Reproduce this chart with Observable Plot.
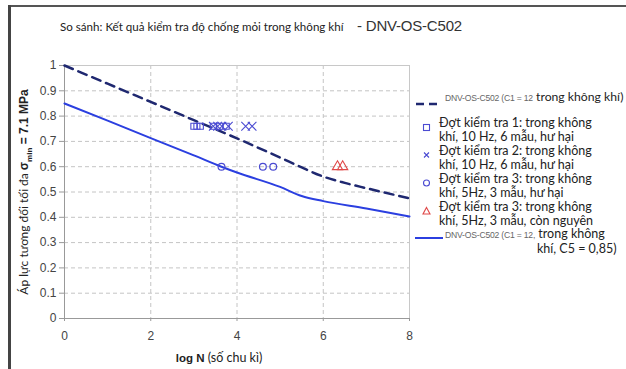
<!DOCTYPE html>
<html><head><meta charset="utf-8">
<script src="https://cdn.jsdelivr.net/npm/d3@7"></script>
<script src="https://cdn.jsdelivr.net/npm/@observablehq/plot@0.6"></script>
<style>
body{margin:0;background:#fff;}
#wrap{position:relative;width:626px;height:369px;overflow:hidden;background:#fff;font-family:Lato,"Open Sans",sans-serif;color:#222;}
#topbar{position:absolute;left:8px;top:5px;width:618px;height:2px;background:#555;}
#leftbar{position:absolute;left:8px;top:5px;width:3px;height:364px;background:#444;}
#chart{position:absolute;left:0;top:0;}
.abs{position:absolute;white-space:nowrap;}
.title1{left:60px;top:20px;font-size:11.6px;}
.title2{left:357px;top:17px;font-size:15px;font-family:"Liberation Sans",Arial,sans-serif;letter-spacing:-0.2px;color:#333;}
.ylab{left:25px;top:192px;transform:translate(-50%,-50%) rotate(-90deg);font-size:12px;}
.ylab b{font-family:"Liberation Sans",Arial,sans-serif;font-size:12px;}
.xlab{left:219px;top:357px;transform:translate(-50%,-50%);font-size:12.5px;}
.xlab b{font-family:"Liberation Sans",Arial,sans-serif;font-size:11.5px;}
.leg{font-size:12.5px;line-height:13.5px;}
.small{font-family:"Liberation Sans",Arial,sans-serif;font-size:8.6px;color:#666;letter-spacing:-0.2px;}
</style></head><body>
<div id="wrap">
<div id="topbar"></div><div id="leftbar"></div>
<div id="chart"></div>
</div>
<script>
// ---- data ----
const dashedX = [0, 1, 2, 3, 4, 5, 5.5, 6, 6.5, 7, 8];
const dashedY = [1.0, 0.928, 0.856, 0.784, 0.712, 0.636, 0.597, 0.561, 0.536, 0.515, 0.475];
const solidX = [0, 1, 2, 3, 3.64, 4, 5, 5.5, 6, 7, 8];
const solidY = [0.85, 0.782, 0.713, 0.645, 0.60, 0.577, 0.52, 0.484, 0.464, 0.435, 0.403];
const test1X = [3.0, 3.07, 3.15, 3.45, 3.6, 3.75];
const test1Y = [0.76, 0.76, 0.76, 0.76, 0.76, 0.76];
const test2X = [3.45, 3.55, 3.65, 3.8, 4.2, 4.35];
const test2Y = [0.76, 0.76, 0.76, 0.76, 0.76, 0.76];
const test3X = [3.64, 4.6, 4.84];
const test3Y = [0.60, 0.60, 0.60];
const test3bX = [6.33, 6.45];
const test3bY = [0.60, 0.60];
const xTicks = [0, 2, 4, 6, 8];
const yTicks = [0, 0.1, 0.2, 0.3, 0.4, 0.5, 0.6, 0.7, 0.8, 0.9, 1];

const titleMain = "So sánh: Kết quả kiểm tra độ chống mỏi trong không khí";
const titleStd = "- DNV-OS-C502";
const yLabelText = "Áp lực tương đối tối đa ";
const xLabelBold = "log N";
const xLabelText = " (số chu kì)";
const legendLabels = [
  ["DNV-OS-C502 (C1 = 12", " trong không khí)"],
  ["Đợt kiểm tra 1: trong không", "khí, 10 Hz, 6 mẫu, hư hại"],
  ["Đợt kiểm tra 2: trong không", "khí, 10 Hz, 6 mẫu, hư hại"],
  ["Đợt kiểm tra 3: trong không", "khí, 5Hz, 3 mẫu, hư hại"],
  ["Đợt kiểm tra 3: trong không", "khí, 5Hz, 3 mẫu, còn nguyên"],
  ["DNV-OS-C502 (C1 = 12,", " trong không", "khí, C5 = 0,85)"]
];

const zip = (xs, ys) => xs.map((x, i) => ({x, y: ys[i]}));
const cDash = "#1f2870", cSolid = "#2b3fe0", cMark = "#4b4bd2", cRed = "#e04848";

const chart = Plot.plot({
  width: 626, height: 369,
  marginLeft: 64, marginRight: 217, marginTop: 65, marginBottom: 51,
  style: {fontFamily: "'Liberation Sans', Arial, sans-serif", fontSize: "12px", color: "#444", background: "transparent"},
  x: {domain: [0, 8]},
  y: {domain: [0, 1]},
  marks: [
    Plot.gridY(yTicks.filter(d => d > 0 && d < 1), {stroke: "#c4c4c4", strokeOpacity: 1, strokeDasharray: "4,3"}),
    Plot.gridX(xTicks.filter(d => d > 0 && d < 8), {stroke: "#c4c4c4", strokeOpacity: 1, strokeDasharray: "4,3"}),
    Plot.frame({stroke: "#c8c8c8"}),
    Plot.ruleY([0], {stroke: "#999"}),
    Plot.ruleX([0], {stroke: "#999"}),
    Plot.axisY(yTicks, {tickSize: 5, tickPadding: 3, stroke: "#999", tickFormat: d => String(+d.toFixed(1)), label: null}),
    Plot.axisX(xTicks, {tickSize: 3, tickPadding: 10, stroke: "#999", tickFormat: d => String(d), label: null}),
    Plot.line(zip(dashedX, dashedY), {x: "x", y: "y", stroke: cDash, strokeWidth: 2.5, strokeDasharray: "9,6", curve: "monotone-x"}),
    Plot.line(zip(solidX, solidY), {x: "x", y: "y", stroke: cSolid, strokeWidth: 2, curve: "monotone-x"}),
    Plot.dot(zip(test1X, test1Y), {x: "x", y: "y", symbol: "square", r: 3.4, stroke: cMark, strokeWidth: 1.1, fill: "none"}),
    Plot.dot(zip(test2X, test2Y), {x: "x", y: "y", symbol: "times", r: 4, stroke: cMark, strokeWidth: 1.1, fill: "none"}),
    Plot.dot(zip(test3X, test3Y), {x: "x", y: "y", symbol: "circle", r: 3.4, stroke: cMark, strokeWidth: 1.2, fill: "none"}),
    Plot.dot(zip(test3bX, test3bY), {x: "x", y: "y", symbol: "triangle", r: 3.8, stroke: cRed, strokeWidth: 1.1, fill: "none"})
  ]
});
document.getElementById("chart").appendChild(chart);

const wrap = document.getElementById("wrap");
function add(html, cls, style) {
  const d = document.createElement("div");
  d.className = "abs " + cls;
  d.innerHTML = html;
  if (style) d.setAttribute("style", style);
  wrap.appendChild(d);
  return d;
}
add(titleMain, "title1");
add(titleStd, "title2");
add(yLabelText + "<b>σ<sub style='font-size:8px'>min</sub> = 7.1 MPa</b>", "ylab");
add("<b>" + xLabelBold + "</b>" + xLabelText, "xlab");

// legend
function sym(kind) {
  let inner = "";
  if (kind === "dash") inner = `<line x1="1" y1="5" x2="25" y2="5" stroke="${cDash}" stroke-width="2.5" stroke-dasharray="8,5"/>`;
  if (kind === "solid") inner = `<line x1="0" y1="5" x2="28" y2="5" stroke="${cSolid}" stroke-width="2"/>`;
  if (kind === "square") inner = `<rect x="9.5" y="2.5" width="6" height="6" fill="none" stroke="${cMark}" stroke-width="1.1"/>`;
  if (kind === "times") inner = `<path d="M10 2.5L15 7.5M15 2.5L10 7.5" stroke="${cMark}" stroke-width="1.1"/>`;
  if (kind === "circle") inner = `<circle cx="12.5" cy="5" r="3" fill="none" stroke="${cMark}" stroke-width="1.1"/>`;
  if (kind === "triangle") inner = `<path d="M12.5 1.5L16 8L9 8Z" fill="none" stroke="${cRed}" stroke-width="1.1"/>`;
  return `<svg width="30" height="10" style="vertical-align:middle">${inner}</svg>`;
}
// dashed entry
add(sym("dash"), "", "left:415px;top:92px;");
add(`<span class="small">${legendLabels[0][0]}</span><span style="font-size:12.2px">${legendLabels[0][1]}</span>`, "leg", "left:445px;top:90px;");
const kinds = ["square", "times", "circle", "triangle"];
const tops = [123, 151, 179, 207];
kinds.forEach((k, i) => {
  add(sym(k), "", `left:414px;top:${tops[i] - 8}px;`);
  add(legendLabels[i + 1][0] + "<br>" + legendLabels[i + 1][1], "leg", `left:439px;top:${tops[i] - 7}px;`);
});
add(sym("solid"), "", "left:415px;top:226px;");
add(`<span class="small">${legendLabels[5][0]}</span><span style="font-size:12.5px">${legendLabels[5][1]}</span>`, "leg", "left:445px;top:227px;");
add(legendLabels[5][2], "leg", "left:537px;top:242px;");
</script>
</body></html>
